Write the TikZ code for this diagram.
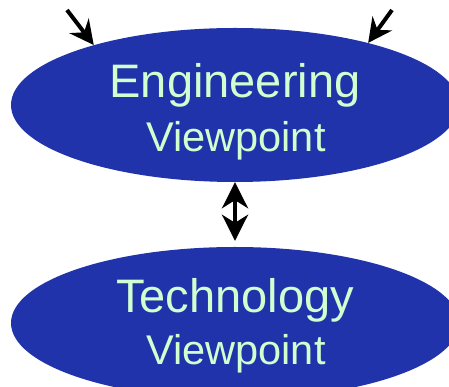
\documentclass[tikz,border=0pt]{standalone}
\usepackage{fontspec}
\setmainfont{Liberation Sans}
\usetikzlibrary{shapes.geometric,arrows.meta}
\definecolor{vpblue}{RGB}{33,51,170}
\definecolor{vpgreen}{RGB}{208,255,208}
\begin{document}
\begin{tikzpicture}[x=1pt,y=1pt,
  vp/.style={ellipse,fill=vpblue,draw=none,minimum width=448pt,minimum height=154pt,inner sep=0pt},
  bigtxt/.style={anchor=base,text=vpgreen,inner sep=0pt,font=\fontsize{47}{50}\selectfont},
  smalltxt/.style={anchor=base,text=vpgreen,inner sep=0pt,font=\fontsize{41.5}{44}\selectfont},
  conn/.style={line width=4pt,-{Stealth[length=24pt,width=24pt,inset=8pt]}},
  dconn/.style={line width=4pt,{Stealth[length=26pt,width=26pt,inset=8pt]}-{Stealth[length=26pt,width=26pt,inset=8pt]}}
]
\useasboundingbox (0,0) rectangle (449,387);
\node[vp] (eng) at (235,282) {};
\node[vp,minimum height=152pt] (tech) at (235,64) {};
\node[bigtxt] (engt) at (235,289) {Engineering};
\node[smalltxt] (engv) at (236,235) {Viewpoint};
\node[bigtxt] (techt) at (235,74) {Technology};
\node[smalltxt] (techv) at (236,22) {Viewpoint};
\coordinate (inl) at (67,377);
\coordinate (inr) at (392,377);
\draw[conn] (inl) -- (eng.157.3);
\draw[conn] (inr) -- (eng.25.3);
\draw[dconn,shorten >=6pt] (eng.south) -- (tech.north);
\end{tikzpicture}
\end{document}
